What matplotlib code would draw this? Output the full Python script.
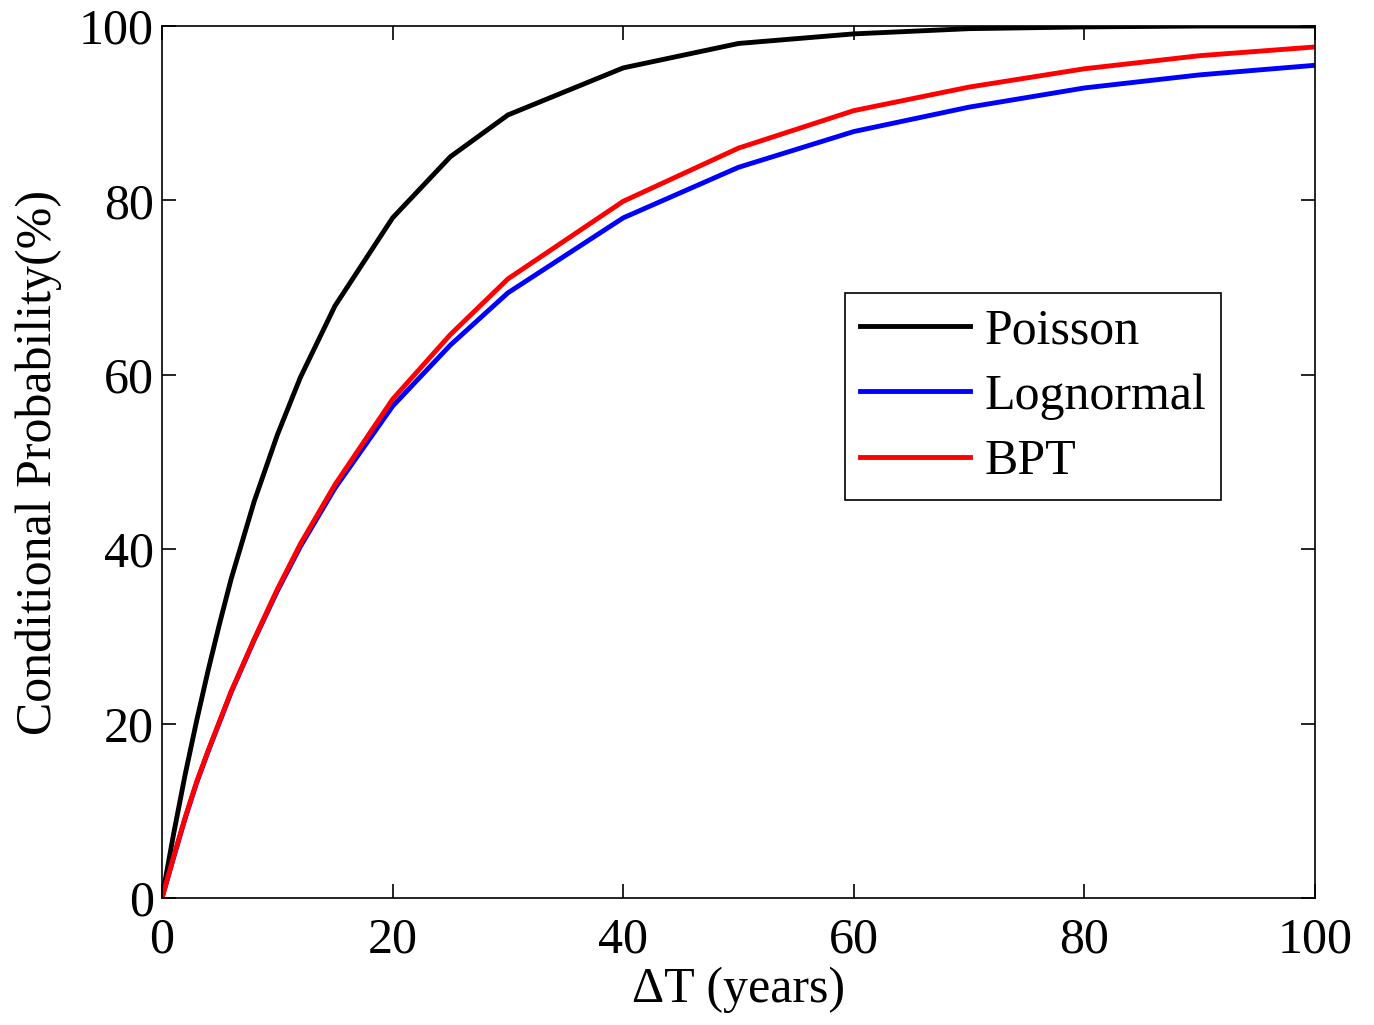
import matplotlib
matplotlib.use("Agg")
import matplotlib.pyplot as plt

# elapsed time (years) and conditional probabilities (%)
dt_years = [0, 1, 2, 3, 4, 5, 6, 8, 10, 12, 15, 20, 25, 30, 40, 50, 60, 70, 80, 90, 100]
poisson = [0, 7.3, 14.1, 20.3, 26.1, 31.5, 36.6, 45.5, 53.1, 59.7, 67.9, 78.0, 85.0,
           89.8, 95.2, 98.0, 99.1, 99.7, 99.9, 100.0, 100.0]
lognormal = [0, 4.6, 9.1, 13.2, 16.8, 20.2, 23.6, 29.6, 35.2, 40.3, 47.0, 56.4, 63.4,
             69.4, 78.0, 83.8, 87.9, 90.7, 92.9, 94.4, 95.5]
bpt = [0, 4.7, 9.2, 13.3, 16.9, 20.3, 23.7, 29.7, 35.4, 40.6, 47.4, 57.2, 64.6,
       71.0, 79.9, 86.0, 90.3, 93.0, 95.1, 96.6, 97.6]

series = ["Poisson", "Lognormal", "BPT"]
colors = ["black", "blue", "red"]

plt.rcParams["font.family"] = ["Liberation Serif", "DejaVu Serif"]

fig = plt.figure(figsize=(13.74, 10.25), dpi=100)
ax = fig.add_axes([0.1179, 0.1239, 0.8392, 0.8507])

for name, vals, c in zip(series, [poisson, lognormal, bpt], colors):
    ax.plot(dt_years, vals, color=c, linewidth=3.5, label=name)

ax.set_xlim(0, 100)
ax.set_ylim(0, 100)
ax.set_xticks(range(0, 101, 20))
ax.set_yticks(range(0, 101, 20))
ax.tick_params(direction="in", length=10, width=1.2, top=True, right=True,
               labelsize=36, pad=6)
ax.tick_params(axis="x", pad=14)
for sp in ax.spines.values():
    sp.set_linewidth(1.2)

ax.set_xlabel("\u0394T (years)", fontsize=36, labelpad=2)
ax.set_ylabel("Conditional Probability(%)", fontsize=36, labelpad=12)

leg = ax.legend(loc="upper left", bbox_to_anchor=(0.592, 0.694), fontsize=36,
                handlelength=2.2, labelspacing=0.38, handletextpad=0.3,
                borderpad=0.3, borderaxespad=0, fancybox=False, framealpha=1,
                edgecolor="black")
leg.get_frame().set_linewidth(1.2)

fig.savefig("out.png", dpi=100, facecolor="white")
